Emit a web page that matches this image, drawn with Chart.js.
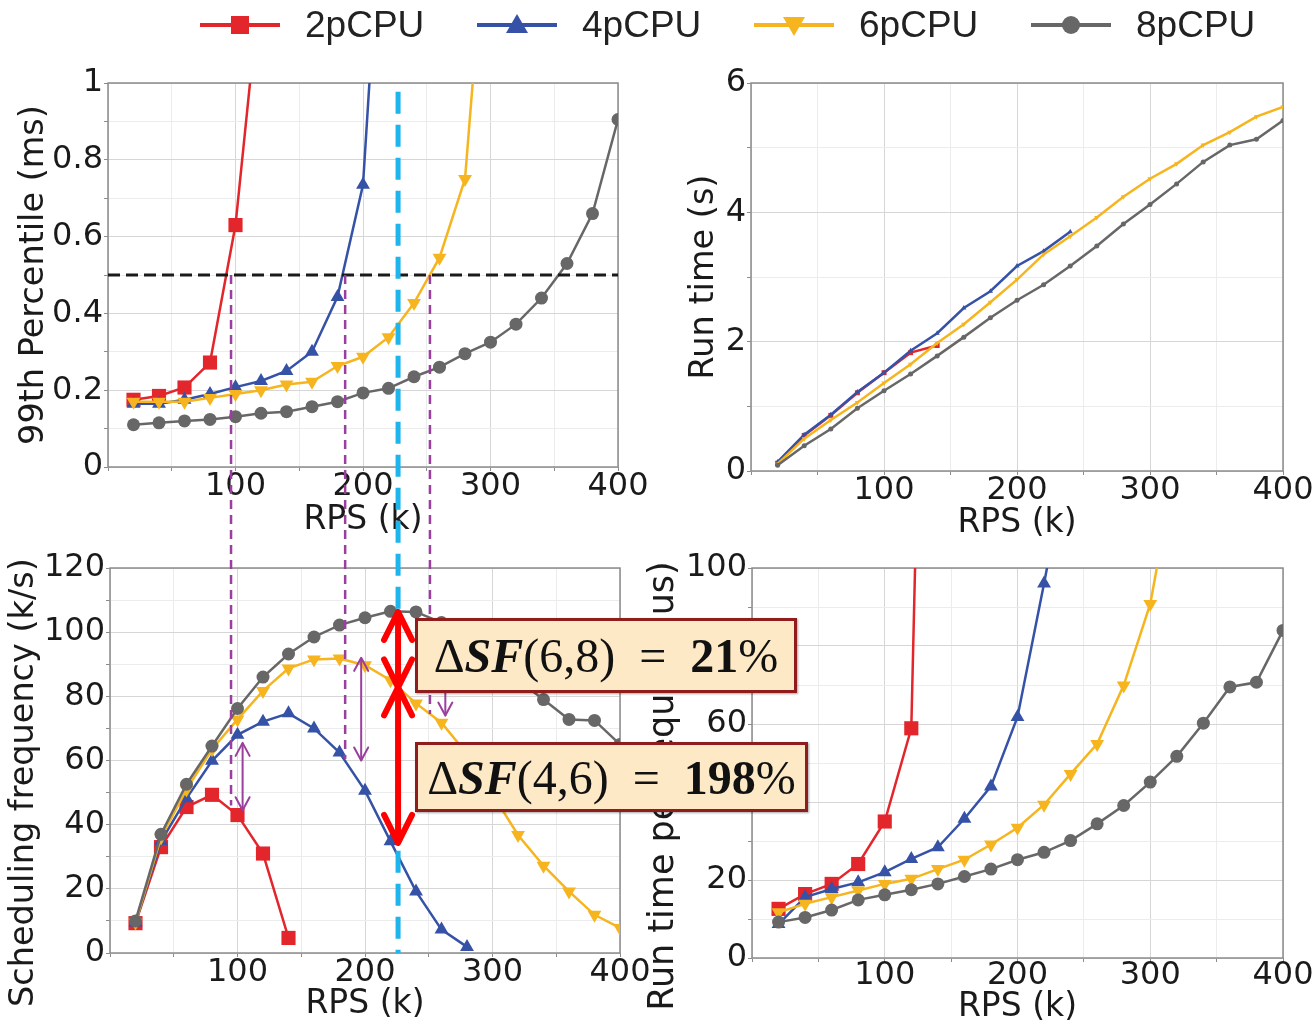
<!DOCTYPE html>
<html>
<head>
<meta charset="utf-8">
<script src="https://cdn.jsdelivr.net/npm/chart.js@4.4.1/dist/chart.umd.min.js"></script>
<style>
  html, body { margin: 0; padding: 0; background: #fff; }
  #fig { position: relative; width: 1314px; height: 1025px; overflow: hidden; }
  #fig canvas { position: absolute; }
  #legend { position: absolute; left: 198px; top: 4px; height: 42px; display: flex; z-index: 7; }
  .item { width: 277px; display: flex; align-items: center; }
  .item span { font: 37px "Liberation Sans", Arial, sans-serif; color: #222; margin-left: 23px; }
  .note { position: absolute; box-sizing: border-box; z-index: 6; background: #fde9c6; border: 3px solid #8f1d1d;
          font-family: "Liberation Serif", "DejaVu Serif", serif; font-size: 48px; color: #111;
          display: flex; align-items: center; justify-content: center; white-space: pre;
          box-shadow: 1px 1px 2px rgba(0,0,0,0.35); }
</style>
</head>
<body>
<div id="fig">
  <div id="legend"></div>
  <canvas id="tl" width="660" height="480" style="left:0px;top:60px"></canvas>
  <canvas id="tr" width="654" height="480" style="left:660px;top:60px"></canvas>
  <canvas id="bl" width="660" height="485" style="left:0px;top:540px"></canvas>
  <canvas id="br" width="674" height="485" style="left:640px;top:540px"></canvas>
  <canvas id="overlay" width="1314" height="1025" style="left:0;top:0;z-index:5"></canvas>
  <div class="note" style="left:415px;top:618px;width:382px;height:75px"><span>&Delta;<b><i>SF</i></b>(6,8)&ensp;=&ensp;<b>21</b>%</span></div>
  <div class="note" style="left:415px;top:742px;width:393px;height:70px"><span>&Delta;<b><i>SF</i></b>(4,6)&ensp;=&ensp;<b>198</b>%</span></div>
</div>
<script>
// x values shared by every panel (RPS, thousands)
const rps = [20, 40, 60, 80, 100, 120, 140, 160, 180, 200, 220, 240, 260, 280, 300, 320, 340, 360, 380, 400];

const seriesNames = ['2pCPU', '4pCPU', '6pCPU', '8pCPU'];
const seriesColors = ['#e3262b', '#3552a6', '#f6b51e', '#676767'];
const pointShapes = ['rect', 'triangle', 'triangle', 'circle'];
const pointTurns = [0, 0, 180, 0];

// 99th percentile latency (ms)
const p99_2 = [0.175, 0.185, 0.207, 0.272, 0.63, 1.28];
const p99_4 = [0.165, 0.165, 0.175, 0.19, 0.208, 0.224, 0.25, 0.30, 0.443, 0.735, 1.79];
const p99_6 = [0.17, 0.17, 0.17, 0.18, 0.19, 0.2, 0.215, 0.222, 0.263, 0.287, 0.338, 0.427, 0.545, 0.75, 1.58];
const p99_8 = [0.11, 0.115, 0.12, 0.124, 0.131, 0.14, 0.144, 0.157, 0.17, 0.193, 0.205, 0.235, 0.26, 0.295, 0.325, 0.372, 0.44, 0.53, 0.66, 0.905];

// run time (s)
const run_2 = [0.12, 0.55, 0.86, 1.21, 1.52, 1.83, 1.94];
const run_4 = [0.14, 0.56, 0.87, 1.22, 1.52, 1.86, 2.13, 2.52, 2.78, 3.17, 3.4, 3.7];
const run_6 = [0.11, 0.5, 0.79, 1.06, 1.36, 1.65, 1.98, 2.27, 2.61, 2.96, 3.35, 3.63, 3.92, 4.24, 4.52, 4.75, 5.04, 5.24, 5.48, 5.63];
const run_8 = [0.09, 0.39, 0.65, 0.97, 1.24, 1.5, 1.78, 2.07, 2.37, 2.64, 2.88, 3.17, 3.48, 3.82, 4.12, 4.44, 4.78, 5.04, 5.13, 5.42];

// scheduling frequency (k/s)
const sf_2 = [9.3, 33, 45.5, 49.3, 43, 31, 4.7];
const sf_4 = [9.5, 34.8, 48.2, 59.9, 68, 72.1, 74.7, 70, 62.5, 50.6, 34.8, 19.2, 7.3, 1.9];
const sf_6 = [9.5, 36, 51, 63.5, 72.8, 81.7, 88.7, 91.5, 91.8, 89.7, 85, 77.8, 71.8, 62, 49.5, 36.8, 27.2, 19.2, 11.9, 7.8];
const sf_8 = [10, 37, 52.6, 64.5, 76.2, 86, 93.2, 98.5, 102.2, 104.5, 106.5, 106.3, 103, 97.5, 91, 85, 79, 72.8, 72.5, 65];

// run time per request (us)
const req_2 = [12.6, 16.4, 19, 24.1, 35, 58.9, 350];
const req_4 = [8.7, 15.6, 17.7, 19.4, 22, 25.4, 28.4, 35.7, 44, 61.8, 96, 132];
const req_6 = [11.7, 13.9, 15.6, 17.3, 19, 20.3, 22.8, 25.2, 29.1, 33.4, 39.3, 47.2, 54.9, 69.9, 90.8, 128];
const req_8 = [9.2, 10.4, 12.3, 14.9, 16.2, 17.5, 19, 20.9, 22.8, 25.2, 27.1, 30.1, 34.4, 39.1, 45.1, 51.7, 60.2, 69.5, 70.7, 84];

const xLabels = [100, 200, 300, 400];

// annotation anchors (data units)
const sloMs = 0.5;
const kneeRps = [96.5, 186, 252.5];
const kneeSf = [46, 60.5, 74.5];
const cutRps = 227.5;
const gapArrows = [[104, 44.5, 65.5], [197, 60, 92], [263, 100, 74]];
const deltaArrows = [[106.3, 82.8], [82.8, 34.3]];

const tickFont = { family: 'DejaVu Sans', size: 32, lineHeight: 1 };

const framePlugin = {
    id: 'frame',
    beforeDatasetsDraw(chart) {
        const a = chart.chartArea;
        const ctx = chart.ctx;
        ctx.save();
        ctx.strokeStyle = '#8c8c8c';
        ctx.lineWidth = 1.5;
        ctx.strokeRect(a.left, a.top, a.width, a.height);
        ctx.restore();
    }
};

function isStep(v, step) {
    const r = v / step;
    return Math.abs(r - Math.round(r)) < 1e-6;
}

function makeChart(id, series, cfg) {
    const ctx = document.getElementById(id).getContext('2d');
    return new Chart(ctx, {
        type: 'line',
        data: {
            datasets: series.map((vals, i) => ({
                label: seriesNames[i],
                data: vals.map((v, j) => ({ x: rps[j], y: v })),
                borderColor: seriesColors[i],
                backgroundColor: seriesColors[i],
                borderWidth: 2.5,
                pointStyle: pointShapes[i],
                pointRotation: pointTurns[i],
                pointRadius: cfg.marks[i],
                pointBorderWidth: 0,
                tension: 0,
                order: 3 - i
            }))
        },
        options: {
            responsive: false,
            animation: false,
            devicePixelRatio: 1,
            layout: { padding: { left: 0, top: cfg.padTop, right: cfg.padRight, bottom: 0 } },
            plugins: { legend: { display: false }, tooltip: { enabled: false } },
            scales: {
                x: {
                    type: 'linear', min: 0, max: 400,
                    afterFit: s => { s.height = cfg.xH; },
                    ticks: {
                        stepSize: 50, autoSkip: false, maxRotation: 0, padding: cfg.xPad,
                        font: tickFont, color: '#1a1a1a',
                        callback: v => xLabels.includes(v) ? String(v) : ''
                    },
                    grid: { color: c => isStep(c.tick.value, 100) ? '#d6d6d6' : '#ececec', tickLength: 4, tickColor: '#8c8c8c' },
                    border: { display: false },
                    title: { display: true, text: 'RPS (k)', font: { family: 'DejaVu Sans', size: 33, lineHeight: 1 }, color: '#1a1a1a', padding: { top: 0, bottom: cfg.xTitlePad } }
                },
                y: {
                    type: 'linear', min: 0, max: cfg.yMax,
                    afterFit: s => { s.width = cfg.yW; },
                    ticks: {
                        stepSize: cfg.yStep, autoSkip: false, padding: 1,
                        font: tickFont, color: '#1a1a1a',
                        callback: v => isStep(v, cfg.yMajor) ? String(Math.round(v * 10) / 10) : ''
                    },
                    grid: { color: c => isStep(c.tick.value, cfg.yMajor) ? '#d6d6d6' : '#ececec', tickLength: 4, tickColor: '#8c8c8c' },
                    border: { display: false },
                    title: { display: true, text: cfg.yTitle, font: { family: 'DejaVu Sans', size: cfg.yTitleSize, lineHeight: 1 }, color: '#1a1a1a', padding: { top: cfg.yTitlePad, bottom: 0 } }
                }
            }
        },
        plugins: [framePlugin]
    });
}

const bigMarks = [10, 8, 8, 6.5];
const smallMarks = [3.5, 3, 3, 2.5];

const chartTL = makeChart('tl', [p99_2, p99_4, p99_6, p99_8], {
    padTop: 23, padRight: 42, xH: 73, yW: 108, xPad: 0, xTitlePad: 3, yTitlePad: 18, yTitleSize: 33.5,
    yMax: 1, yStep: 0.1, yMajor: 0.2, yTitle: '99th Percentile (ms)', marks: bigMarks
});
const chartTR = makeChart('tr', [run_2, run_4, run_6, run_8], {
    padTop: 23, padRight: 31, xH: 69, yW: 91, xPad: 0, xTitlePad: 0, yTitlePad: 28, yTitleSize: 33.5,
    yMax: 6, yStep: 1, yMajor: 2, yTitle: 'Run time (s)', marks: smallMarks
});
// trailing en spaces push the rotated titles down a little, as in the figure
const chartBL = makeChart('bl', [sf_2, sf_4, sf_6, sf_8], {
    padTop: 28, padRight: 40, xH: 72, yW: 110, xPad: 0, xTitlePad: 4, yTitlePad: 8, yTitleSize: 33.5,
    yMax: 120, yStep: 10, yMajor: 20, yTitle: 'Scheduling frequency (k/s)\u2002\u2002 ', marks: bigMarks
});
const chartBR = makeChart('br', [req_2, req_4, req_6, req_8], {
    padTop: 28, padRight: 31, xH: 67, yW: 112, xPad: -2, xTitlePad: 1, yTitlePad: 6, yTitleSize: 35,
    yMax: 100, yStep: 10, yMajor: 20, yTitle: 'Run time per request (us)\u2002\u2002 ', marks: bigMarks
});

// 🧭 LEGEND
const legend = document.getElementById('legend');
seriesNames.forEach((name, i) => {
    const c = seriesColors[i];
    let mark = '';
    if (pointShapes[i] === 'rect') mark = `<rect x="33" y="11" width="18" height="18" fill="${c}"/>`;
    else if (pointShapes[i] === 'circle') mark = `<circle cx="42" cy="20" r="9" fill="${c}"/>`;
    else if (pointTurns[i] === 0) mark = `<polygon points="42,9 53,28 31,28" fill="${c}"/>`;
    else mark = `<polygon points="31,12 53,12 42,31" fill="${c}"/>`;
    legend.innerHTML += `<div class="item"><svg width="84" height="40"><line x1="2" y1="20" x2="82" y2="20" stroke="${c}" stroke-width="4"/>${mark}</svg><span>${name}</span></div>`;
});

// ✏️ ANNOTATIONS across panels
const ov = document.getElementById('overlay').getContext('2d');
const px = (ch, v) => ch.canvas.offsetLeft + ch.scales.x.getPixelForValue(v);
const py = (ch, v) => ch.canvas.offsetTop + ch.scales.y.getPixelForValue(v);

function line(x1, y1, x2, y2, color, width, dash) {
    ov.save();
    ov.strokeStyle = color;
    ov.lineWidth = width;
    ov.setLineDash(dash || []);
    ov.beginPath();
    ov.moveTo(x1, y1);
    ov.lineTo(x2, y2);
    ov.stroke();
    ov.restore();
}

function doubleArrow(x, y1, y2, color, width, headW, headL) {
    line(x, y1, x, y2, color, width);
    [[y1, y2], [y2, y1]].forEach(([tip, from]) => {
        const dir = from > tip ? 1 : -1;
        ov.save();
        ov.strokeStyle = color;
        ov.lineWidth = width;
        ov.lineCap = 'round';
        ov.lineJoin = 'round';
        ov.beginPath();
        ov.moveTo(x - headW, tip + dir * headL);
        ov.lineTo(x, tip);
        ov.lineTo(x + headW, tip + dir * headL);
        ov.stroke();
        ov.restore();
    });
}

// latency target
line(px(chartTL, 0), py(chartTL, sloMs), px(chartTL, 400), py(chartTL, sloMs), '#1a1a1a', 3, [12, 6]);

// knees carried down to the scheduling panel
kneeRps.forEach((r, i) => {
    const x = px(chartTL, r);
    line(x, py(chartTL, sloMs), x, py(chartBL, kneeSf[i]), '#9b3f9f', 2.5, [9, 6]);
});

gapArrows.forEach(([r, a, b]) => {
    doubleArrow(px(chartBL, r), py(chartBL, a), py(chartBL, b), '#9b3f9f', 2, 7, 13);
});

// cut line
const cx = px(chartTL, cutRps);
line(cx, py(chartTL, 0.977), cx, py(chartBL, 0), '#1eb4ec', 5, [22, 11]);

deltaArrows.forEach(([a, b]) => {
    doubleArrow(cx, py(chartBL, a), py(chartBL, b), '#ff0000', 6, 14, 28);
});
</script>
</body>
</html>
